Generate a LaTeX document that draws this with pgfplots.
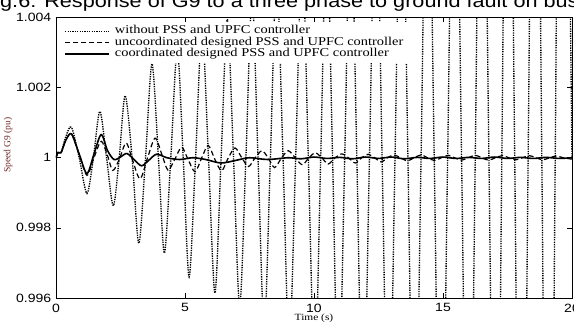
\documentclass[border=0pt]{standalone}
\usepackage{fontspec}
\setmainfont{Liberation Serif}[FakeStretch=1.2]
\newfontfamily\arialf{Liberation Sans}[FakeStretch=1.17]
\newfontfamily\serifn{Liberation Serif}
\usepackage{pgfplots}
\pgfplotsset{compat=1.18}
\definecolor{ylab}{RGB}{110,40,40}
\begin{document}
\begin{tikzpicture}
\node[anchor=base west, inner sep=0pt, font=\arialf\fontsize{18.5bp}{20bp}\selectfont] at (0bp,314.5bp) {g.6: Response of G9 to a three phase to ground fault on bus};
\begin{axis}[
  at={(56bp,24bp)}, anchor=south west, scale only axis,
  width=516bp, height=280.5bp,
  xmin=0, xmax=20, ymin=0.996, ymax=1.004,
  xtick={0,5,10,15,20}, xticklabels={0,5,10,15,20},
  ytick={0.996,0.998,1,1.002,1.004}, yticklabels={0.996,0.998,1,1.002,1.004},
  scaled y ticks=false,
  tick align=inside, major tick length=5bp,
  axis line style={line width=0.8bp},
  every tick/.style={black, line width=0.6bp},
  tick label style={font=\arialf\fontsize{12bp}{12bp}\selectfont},
  xticklabel style={anchor=north, inner sep=0pt, yshift=-5.5bp},
  yticklabel style={anchor=east, inner sep=0pt, xshift=-4.5bp},
  xlabel={Time (s)}, ylabel={Speed G9 (pu)},
  xlabel style={at={(axis description cs:0.5,0)}, anchor=base, yshift=-23bp, font=\fontsize{9.5bp}{10bp}\selectfont, inner sep=0pt},
  ylabel style={at={(axis description cs:-0.093,0.545)}, anchor=center, font=\serifn\fontsize{9.5bp}{10bp}\selectfont, text=ylab, inner sep=0pt},
  legend cell align=left,
  legend style={at={(0.008,0.983)}, anchor=north west, draw=none, fill=white,
    font=\fontsize{12bp}{12bp}\selectfont, inner xsep=4bp, inner ysep=3bp,
    row sep=0pt, column sep=3bp,
    nodes={inner xsep=2bp, inner ysep=0pt, text height=8.5bp, text depth=3bp}},
  legend image code/.code={\draw[#1] (0bp,0bp) -- (44bp,0bp);},
]
\addplot[black, line width=1.35bp, dash pattern=on 1.3bp off 1.1bp, smooth] coordinates {
(0,1.0)(0.08,1.00015)(0.2,1.00015)(0.38,1.0006)(0.6,1.00087)(0.9,1.0)
(1.2,0.99898)(1.45,1.0)(1.7,1.00132)(1.96,1.0)(2.22,0.99863)(2.45,1.0)
(2.68,1.00177)(2.95,1.0)(3.21,0.99756)(3.47,1.0)(3.72,1.00268)(3.97,1.0)
(4.2,0.99728)(4.45,1.0)(4.7,1.0031)(4.93,1.0)(5.16,0.9966)(5.41,1.0)
(5.66,1.0037)(5.91,1.0)(6.16,0.99614)(6.4,1.0)(6.64,1.00395)(6.88,1.0)
(7.12,0.99575)(7.36,1.0)(7.6,1.0046)(7.83,1.0)(8.07,0.9951)(8.31,1.0)
(8.55,1.0052)(8.8,1.0)(9.04,0.9945)(9.29,1.0)(9.54,1.0059)(9.78,1.0)
(10.03,0.99374)(10.26,1.0)(10.49,1.0066)(10.72,1.0)(10.95,0.99296)(11.19,1.0)
(11.42,1.0075)(11.66,1.0)(11.9,0.992)(12.15,1.0)(12.4,1.0085)(12.64,1.0)
(12.89,0.991)(13.14,1.0)(13.39,1.0097)(13.64,1.0)(13.89,0.9897)(14.15,1.0)
(14.4,1.011)(14.66,1.0)(14.92,0.9883)(15.18,1.0)(15.45,1.0125)(15.72,1.0)
(15.99,0.9866)(16.25,1.0)(16.5,1.0144)(16.78,1.0)(17.05,0.9846)(17.28,1.0)
(17.52,1.0165)(17.78,1.0)(18.04,0.9825)(18.3,1.0)(18.57,1.0187)(18.83,1.0)
(19.1,0.98)(19.35,1.0)(19.6,1.0212)(20,1.0)
};
\addlegendentry{without PSS and UPFC controller}
\addplot[black, line width=1.2bp, dash pattern=on 5bp off 3bp, smooth] coordinates {
(0,1.0)(0.08,1.00015)(0.2,1.00015)(0.38,1.0005)(0.6,1.00068)(0.9,1.0001)
(1.2,0.9995)(1.47,1.0)(1.75,1.00047)(1.98,1.0001)(2.2,0.99964)(2.45,0.99995)
(2.72,1.00042)(2.98,0.9999)(3.26,0.9994)(3.55,1.0)(3.84,1.00056)(4.1,1.0001)
(4.34,0.99965)(4.6,0.99995)(4.87,1.0003)(5.12,0.99995)(5.39,0.9996)(5.65,1.0)
(5.9,1.00035)(6.16,0.99995)(6.42,0.99963)(6.68,1.0)(6.94,1.00028)(7.2,1.0)
(7.46,0.99975)(7.72,1.0)(7.98,1.0002)(8.22,1.0)(8.47,0.99972)(8.73,0.99998)
(9.0,1.0002)(9.27,1.0)(9.55,0.9998)(9.8,1.0)(10.05,1.00014)(10.3,1.0)
(10.55,0.99982)(10.82,1.0)(11.08,1.00011)(11.33,1.0)(11.6,0.99985)(11.85,1.0)
(12.1,1.0001)(12.35,1.0)(12.6,0.99988)(12.85,1.0)(13.1,1.00008)(13.35,1.0)
(13.62,0.99991)(13.88,1.0)(14.15,1.00008)(14.4,1.0)(14.67,0.99992)(14.93,1.0)
(15.2,1.00007)(15.45,1.0)(15.72,0.99993)(15.98,1.0)(16.25,1.00007)(16.5,1.0)
(16.77,0.99993)(17.03,1.0)(17.3,1.00006)(17.55,1.0)(17.82,0.99994)(18.08,1.0)
(18.35,1.00006)(18.6,1.0)(18.87,0.99994)(19.13,1.0)(19.4,1.00005)(19.65,1.0)
(20,0.99996)
};
\addlegendentry{uncoordinated designed PSS and UPFC controller}
\addplot[black, line width=1.6bp, smooth] coordinates {
(0,1.0)(0.08,1.00015)(0.2,1.00015)(0.38,1.0005)(0.6,1.00068)(0.9,1.0001)
(1.2,0.99955)(1.47,1.0001)(1.75,1.00066)(2.0,1.0002)(2.25,0.99995)(2.5,1.00002)
(2.75,1.00012)(3.05,0.99993)(3.32,0.99977)(3.6,0.99993)(3.9,1.0001)(4.3,1.0)
(4.8,0.99995)(5.3,1.0)(5.8,0.99995)(6.4,0.99985)(7.0,0.99993)(7.5,1.0)
(8.2,0.99995)(9,1.0)(9.5,0.99997)(10,1.00002)(10.5,0.99998)(11,1.00001)
(11.5,0.99997)(12,1.00002)(12.5,0.99998)(13,1.00002)(13.5,0.99997)(14,1.00001)
(14.5,0.99998)(15,1.00002)(15.5,0.99998)(16,1.00001)(16.5,0.99998)(17,1.00002)
(17.5,0.99998)(18,1.00001)(18.5,0.99998)(19,1.00001)(19.5,0.99998)(20,1.0)
};
\addlegendentry{coordinated designed PSS and UPFC controller}
\end{axis}
\pgfresetboundingbox
\path[use as bounding box] (0,0) rectangle (574bp,322bp);
\end{tikzpicture}
\end{document}
